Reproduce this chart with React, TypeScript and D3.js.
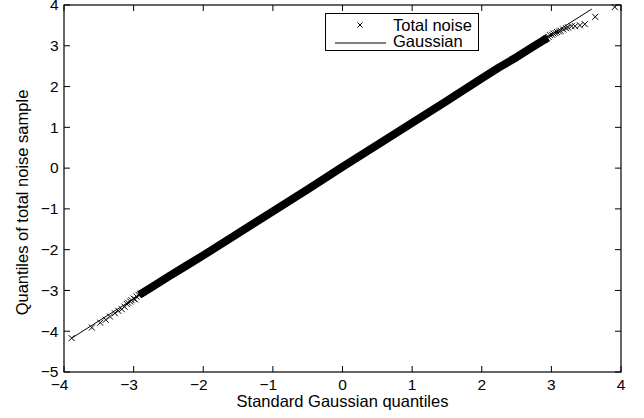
import React from 'react';
import * as d3 from 'd3';

// Q-Q plot: total noise sample vs standard Gaussian quantiles
const xTicks = [-4, -3, -2, -1, 0, 1, 2, 3, 4];
const yTicks = [-5, -4, -3, -2, -1, 0, 1, 2, 3, 4];

// dense central part of the sample (markers overlap into a solid band)
const bandX = [-2.92, -2.75, -2.5, -2.25, -2.0, -1.5, -1.0, -0.5, 0, 0.5, 1.0, 1.5, 2.0, 2.25, 2.5, 2.75, 2.95];
const bandY = [-3.11, -2.93, -2.66, -2.40, -2.14, -1.60, -1.06, -0.52, 0.03, 0.57, 1.11, 1.65, 2.20, 2.47, 2.72, 2.99, 3.20];

// sparse tails, individual markers
const lowerTailX = [-3.89, -3.60, -3.48, -3.40, -3.34, -3.27, -3.22, -3.17, -3.13, -3.10, -3.08, -3.05, -3.03, -3.00, -2.98, -2.96, -2.93, -2.90, -2.87];
const lowerTailY = [-4.17, -3.91, -3.79, -3.72, -3.64, -3.56, -3.50, -3.46, -3.40, -3.33, -3.30, -3.27, -3.24, -3.20, -3.22, -3.15, -3.11, -3.08, -3.06];
const upperTailX = [2.90, 2.93, 2.96, 2.98, 3.01, 3.03, 3.06, 3.08, 3.11, 3.13, 3.17, 3.21, 3.24, 3.29, 3.34, 3.41, 3.48, 3.63, 3.91];
const upperTailY = [3.15, 3.19, 3.22, 3.26, 3.27, 3.30, 3.31, 3.34, 3.35, 3.37, 3.40, 3.43, 3.45, 3.48, 3.48, 3.50, 3.53, 3.71, 3.95];

// reference Gaussian line end points
const gaussX = [-3.89, 3.58];
const gaussY = [-4.17, 3.90];

const W = 644;
const H = 418;
const font = '"Liberation Sans", Arial, Helvetica, sans-serif';
const MINUS = '\u2212';

const cross = (s: number) => `M${-s},${-s}L${s},${s}M${-s},${s}L${s},${-s}`;

export default function App() {
  const left = 64, right = 621, top = 5, bottom = 372;
  const x = d3.scaleLinear().domain([-4, 4]).range([left, right]);
  const y = d3.scaleLinear().domain([-5, 4]).range([bottom, top]);

  const band = bandX.map((v, i) => [v, bandY[i]] as [number, number]);
  const tails = [
    ...lowerTailX.map((v, i) => [v, lowerTailY[i]]),
    ...upperTailX.map((v, i) => [v, upperTailY[i]]),
  ];
  const gauss = gaussX.map((v, i) => [v, gaussY[i]] as [number, number]);

  const line = d3.line<[number, number]>()
    .x(d => x(d[0]))
    .y(d => y(d[1]));

  const tickLen = 6;

  return (
    <svg width={W} height={H} style={{ position: 'fixed', left: 0, top: 0, background: '#fff' }}
      fontFamily={font}>
      <rect x={0} y={0} width={W} height={H} fill="#fff" />

      {/* data */}
      <path d={line(band) || ''} fill="none" stroke="#000" strokeWidth={8} strokeLinejoin="round" strokeLinecap="butt" />
      {tails.map((d, i) => (
        <path key={i} d={cross(3)} transform={`translate(${x(d[0])},${y(d[1])})`} stroke="#000" strokeWidth={1} fill="none" />
      ))}
      <path d={line(gauss) || ''} fill="none" stroke="#000" strokeWidth={1} />

      {/* axes box */}
      <rect x={left} y={top} width={right - left} height={bottom - top} fill="none" stroke="#000" strokeWidth={1.2} />

      {xTicks.map(t => (
        <g key={'x' + t}>
          <line x1={x(t)} x2={x(t)} y1={bottom} y2={bottom - tickLen} stroke="#000" />
          <line x1={x(t)} x2={x(t)} y1={top} y2={top + tickLen} stroke="#000" />
          <text x={x(t)} y={390} fontSize={15.5} textAnchor="middle">{Math.abs(t)}</text>
          {t < 0 && <text x={x(t) - 4.3} y={390} fontSize={15.5} textAnchor="end">{MINUS}</text>}
        </g>
      ))}
      {yTicks.map(t => (
        <g key={'y' + t}>
          <line x1={left} x2={left + tickLen} y1={y(t)} y2={y(t)} stroke="#000" />
          <line x1={right} x2={right - tickLen} y1={y(t)} y2={y(t)} stroke="#000" />
          <text x={58.5} y={y(t) + 5.3} fontSize={15.5} textAnchor="end">{t < 0 ? MINUS + Math.abs(t) : t}</text>
        </g>
      ))}

      <text x={(left + right) / 2} y={407} fontSize={16.5} textAnchor="middle">Standard Gaussian quantiles</text>
      <text transform={`translate(28,${(top + bottom) / 2 + 14}) rotate(-90)`} fontSize={16.5} textAnchor="middle">
        Quantiles of total noise sample
      </text>

      {/* legend */}
      <g>
        <rect x={325.5} y={13.5} width={153} height={37} fill="#fff" stroke="#000" strokeWidth={1} />
        <path d={cross(2.5)} transform="translate(360,25)" stroke="#000" fill="none" />
        <text x={393} y={30.5} fontSize={16.5}>Total noise</text>
        <line x1={335} x2={386} y1={43} y2={43} stroke="#000" />
        <text x={393} y={47} fontSize={16.5}>Gaussian</text>
      </g>
    </svg>
  );
}
